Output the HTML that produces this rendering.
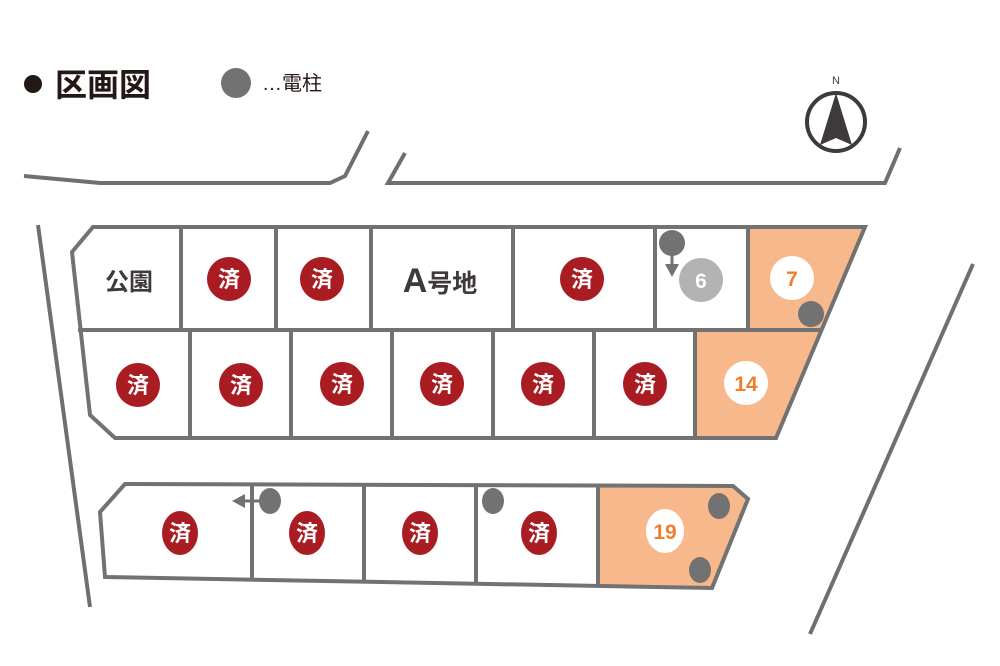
<!DOCTYPE html>
<html><head><meta charset="utf-8"><style>body{margin:0;background:#fff}svg{display:block}</style></head><body>
<svg width="1000" height="666" viewBox="0 0 1000 666" xmlns="http://www.w3.org/2000/svg" font-family="'Liberation Sans','Noto Sans CJK JP',sans-serif">
<rect width="1000" height="666" fill="#fff"/>
<circle cx="33" cy="84" r="9" fill="#231815"/>
<text x="55" y="96" font-size="32" font-weight="bold" fill="#231815">区画図</text>
<circle cx="236" cy="83" r="15" fill="#727272"/>
<text x="262" y="90" font-size="20" fill="#231815">…電柱</text>
<text x="836" y="84" font-size="11" text-anchor="middle" fill="#3e3a39">N</text>
<circle cx="836" cy="122" r="29" fill="none" stroke="#3e3a39" stroke-width="4"/>
<polygon points="836,93 820,145 836,138 852,145" fill="#3e3a39"/>
<g fill="none" stroke="#6f6f6f" stroke-width="4">
<polyline points="24,176 100,183 330,183 345,176 368,131"/>
<polyline points="405,153 388,183 885,183 900,148"/>
<line x1="38" y1="225" x2="90" y2="607"/>
<line x1="973" y1="264" x2="810" y2="634"/>
</g>
<polygon points="748,227 865,227 820,330 748,330" fill="#f7b98c"/>
<polygon points="695,330 820,330 776,438 695,438" fill="#f7b98c"/>
<polygon points="598,486 733,486 748,499 712,588 598,586" fill="#f7b98c"/>
<g fill="none" stroke="#727272" stroke-width="4">
<polygon points="93,227 865,227 776,438 115,438 90,415 72,252"/>
<line x1="78" y1="330" x2="820" y2="330"/>
<line x1="181" y1="227" x2="181" y2="330"/><line x1="276" y1="227" x2="276" y2="330"/>
<line x1="371" y1="227" x2="371" y2="330"/><line x1="513" y1="227" x2="513" y2="330"/>
<line x1="655" y1="227" x2="655" y2="330"/><line x1="748" y1="227" x2="748" y2="330"/>
<line x1="190" y1="330" x2="190" y2="438"/><line x1="291" y1="330" x2="291" y2="438"/>
<line x1="392" y1="330" x2="392" y2="438"/><line x1="493" y1="330" x2="493" y2="438"/>
<line x1="594" y1="330" x2="594" y2="438"/><line x1="695" y1="330" x2="695" y2="438"/>
<polygon points="125,484 733,486 748,499 712,588 105,577 100,512"/>
<line x1="252" y1="484" x2="252" y2="579"/><line x1="364" y1="485" x2="364" y2="581"/>
<line x1="476" y1="485" x2="476" y2="583"/><line x1="598" y1="486" x2="598" y2="586"/>
</g>
<text x="129" y="290" font-size="24" font-weight="bold" text-anchor="middle" fill="#3e3a39">公園</text>
<text x="440" y="292" font-size="25" font-weight="bold" text-anchor="middle" fill="#3e3a39"><tspan font-size="34">A</tspan>号地</text>
<g fill="#a91d22">
<circle cx="229" cy="279" r="22"/><circle cx="322" cy="279" r="22"/><circle cx="582" cy="279" r="22"/>
<circle cx="138" cy="385" r="22"/><circle cx="241" cy="385" r="22"/><circle cx="342" cy="384" r="22"/>
<circle cx="442" cy="384" r="22"/><circle cx="543" cy="384" r="22"/><circle cx="645" cy="384" r="22"/>
<ellipse cx="180" cy="533" rx="18" ry="22"/><ellipse cx="307" cy="533" rx="18" ry="22"/>
<ellipse cx="420" cy="533" rx="18" ry="22"/><ellipse cx="539" cy="533" rx="18" ry="22"/>
</g>
<g fill="#fff" font-size="22" font-weight="bold" text-anchor="middle">
<text x="229" y="287">済</text><text x="322" y="287">済</text><text x="582" y="287">済</text>
<text x="138" y="393">済</text><text x="241" y="393">済</text><text x="342" y="392">済</text>
<text x="442" y="392">済</text><text x="543" y="392">済</text><text x="645" y="392">済</text>
<text x="180" y="541">済</text><text x="307" y="541">済</text><text x="420" y="541">済</text><text x="539" y="541">済</text>
</g>
<circle cx="701" cy="280" r="22" fill="#b3b3b3"/>
<text x="701" y="288" font-size="21" font-weight="bold" text-anchor="middle" fill="#fff">6</text>
<circle cx="792" cy="278" r="22" fill="#fff"/>
<text x="792" y="286" font-size="21" font-weight="bold" text-anchor="middle" fill="#ee7f30">7</text>
<circle cx="746" cy="383" r="22" fill="#fff"/>
<text x="746" y="391" font-size="21" font-weight="bold" text-anchor="middle" fill="#ee7f30">14</text>
<ellipse cx="665" cy="531" rx="19" ry="22" fill="#fff"/>
<text x="665" y="539" font-size="21" font-weight="bold" text-anchor="middle" fill="#ee7f30">19</text>
<g fill="#727272">
<line x1="672" y1="250" x2="672" y2="266" stroke="#727272" stroke-width="3"/>
<polygon points="665,264 679,264 672,277"/>
<line x1="262" y1="501" x2="244" y2="501" stroke="#727272" stroke-width="3"/>
<polygon points="245,494 245,508 232,501"/>
<circle cx="672" cy="243" r="13"/><circle cx="811" cy="314" r="13"/>
<ellipse cx="270" cy="501" rx="11" ry="13"/><ellipse cx="493" cy="501" rx="11" ry="13"/>
<ellipse cx="719" cy="506" rx="11" ry="13"/><ellipse cx="700" cy="570" rx="11" ry="13"/>
</g>
</svg>
</body></html>
